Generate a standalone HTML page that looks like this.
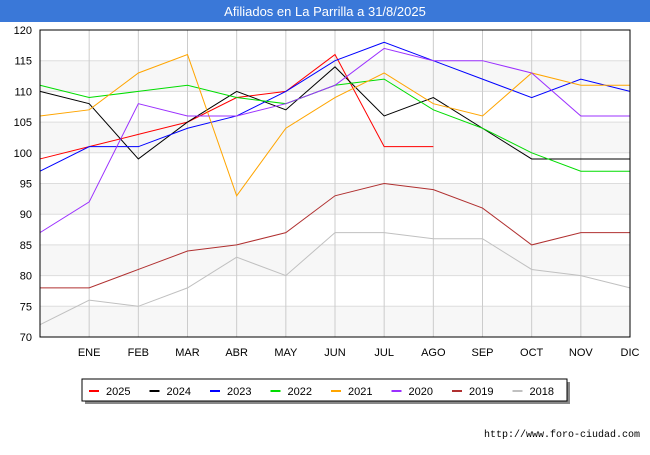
<!DOCTYPE html>
<html><head><meta charset="utf-8"><style>
body{margin:0;width:650px;height:450px;background:#fff;font-family:"Liberation Sans",sans-serif;overflow:hidden}
</style></head><body>
<svg width="650" height="450" xmlns="http://www.w3.org/2000/svg">
<rect x="0" y="0" width="650" height="22" fill="#3a78d8"/>
<text x="325" y="16" fill="#fff" font-size="13" text-anchor="middle">Afiliados en La Parrilla a 31/8/2025</text>
<g id="bands"></g><g id="grid"></g><g id="series"></g><g id="axes"></g>
<rect x="85" y="382" width="485" height="22" fill="#888"/>
<rect x="82" y="379" width="485" height="22" fill="#fff" stroke="#000" stroke-width="1"/>
<g id="legend"></g>
<text x="640" y="437" font-size="10" font-family="Liberation Mono, monospace" text-anchor="end" fill="#000">http://www.foro-ciudad.com</text>
</svg>
<script>
const months=["","ENE","FEB","MAR","ABR","MAY","JUN","JUL","AGO","SEP","OCT","NOV","DIC"];
const yTicks=[70,75,80,85,90,95,100,105,110,115,120];
const seriesNames=["2025","2024","2023","2022","2021","2020","2019","2018"];
const seriesColors=["#ff0000","#000000","#0000ff","#00dd00","#ffa500","#9b30ff","#b03030","#c0c0c0"];
const s2025=[99,101,103,105,109,110,116,101,101];
const s2024=[110,108,99,105,110,107,114,106,109,104,99,99,99];
const s2023=[97,101,101,104,106,110,115,118,115,112,109,112,110];
const s2022=[111,109,110,111,109,108,111,112,107,104,100,97,97];
const s2021=[106,107,113,116,93,104,109,113,108,106,113,111,111];
const s2020=[87,92,108,106,106,108,111,117,115,115,113,106,106];
const s2019=[78,78,81,84,85,87,93,95,94,91,85,87,87];
const s2018=[72,76,75,78,83,80,87,87,86,86,81,80,78];
const allSeries=[s2025,s2024,s2023,s2022,s2021,s2020,s2019,s2018];
const NS="http://www.w3.org/2000/svg";
const L=40,R=630,T=30,B=337,yMin=70,yMax=120;
const xs=i=>L+i*(R-L)/12;
const ys=v=>B-(v-yMin)*(B-T)/(yMax-yMin);
function mk(tag,attrs,parent){const e=document.createElementNS(NS,tag);for(const k in attrs)e.setAttribute(k,attrs[k]);document.getElementById(parent).appendChild(e);return e;}
for(let i=0;i<yTicks.length-1;i++){if(i%2===0){const r=mk('rect',{x:L,y:ys(yTicks[i+1]),width:R-L,height:ys(yTicks[i])-ys(yTicks[i+1]),fill:'#f7f7f7'},'bands');

}}
yTicks.forEach(v=>{const l=mk('line',{x1:L,x2:R,y1:ys(v),y2:ys(v),stroke:'#ddd'},'grid');


const t=mk('text',{x:L-8,y:ys(v)+4,'font-size':11,'text-anchor':'end'},'axes');t.textContent=v;

});
months.forEach((m,i)=>{if(i>0){const l=mk('line',{x1:xs(i),x2:xs(i),y1:T,y2:B,stroke:'#ccc'},'grid');


const t=mk('text',{x:xs(i),y:356,'font-size':11,'text-anchor':'middle'},'axes');t.textContent=m;

}});
const ax=mk('rect',{x:L,y:T,width:R-L,height:B-T,fill:'none',stroke:'#000'},'axes');


allSeries.forEach((s,k)=>{const p=mk('polyline',{points:s.map((v,i)=>xs(i)+','+ys(v)).join(' '),fill:'none',stroke:seriesColors[k],'stroke-width':1},'series');


const lx=89+k*60.5;
const ll=mk('line',{x1:lx,x2:lx+10,y1:391,y2:391,stroke:seriesColors[k],'stroke-width':2},'legend');


const lt=mk('text',{x:lx+17,y:395,'font-size':11},'legend');lt.textContent=seriesNames[k];

});
</script>
</body></html>
